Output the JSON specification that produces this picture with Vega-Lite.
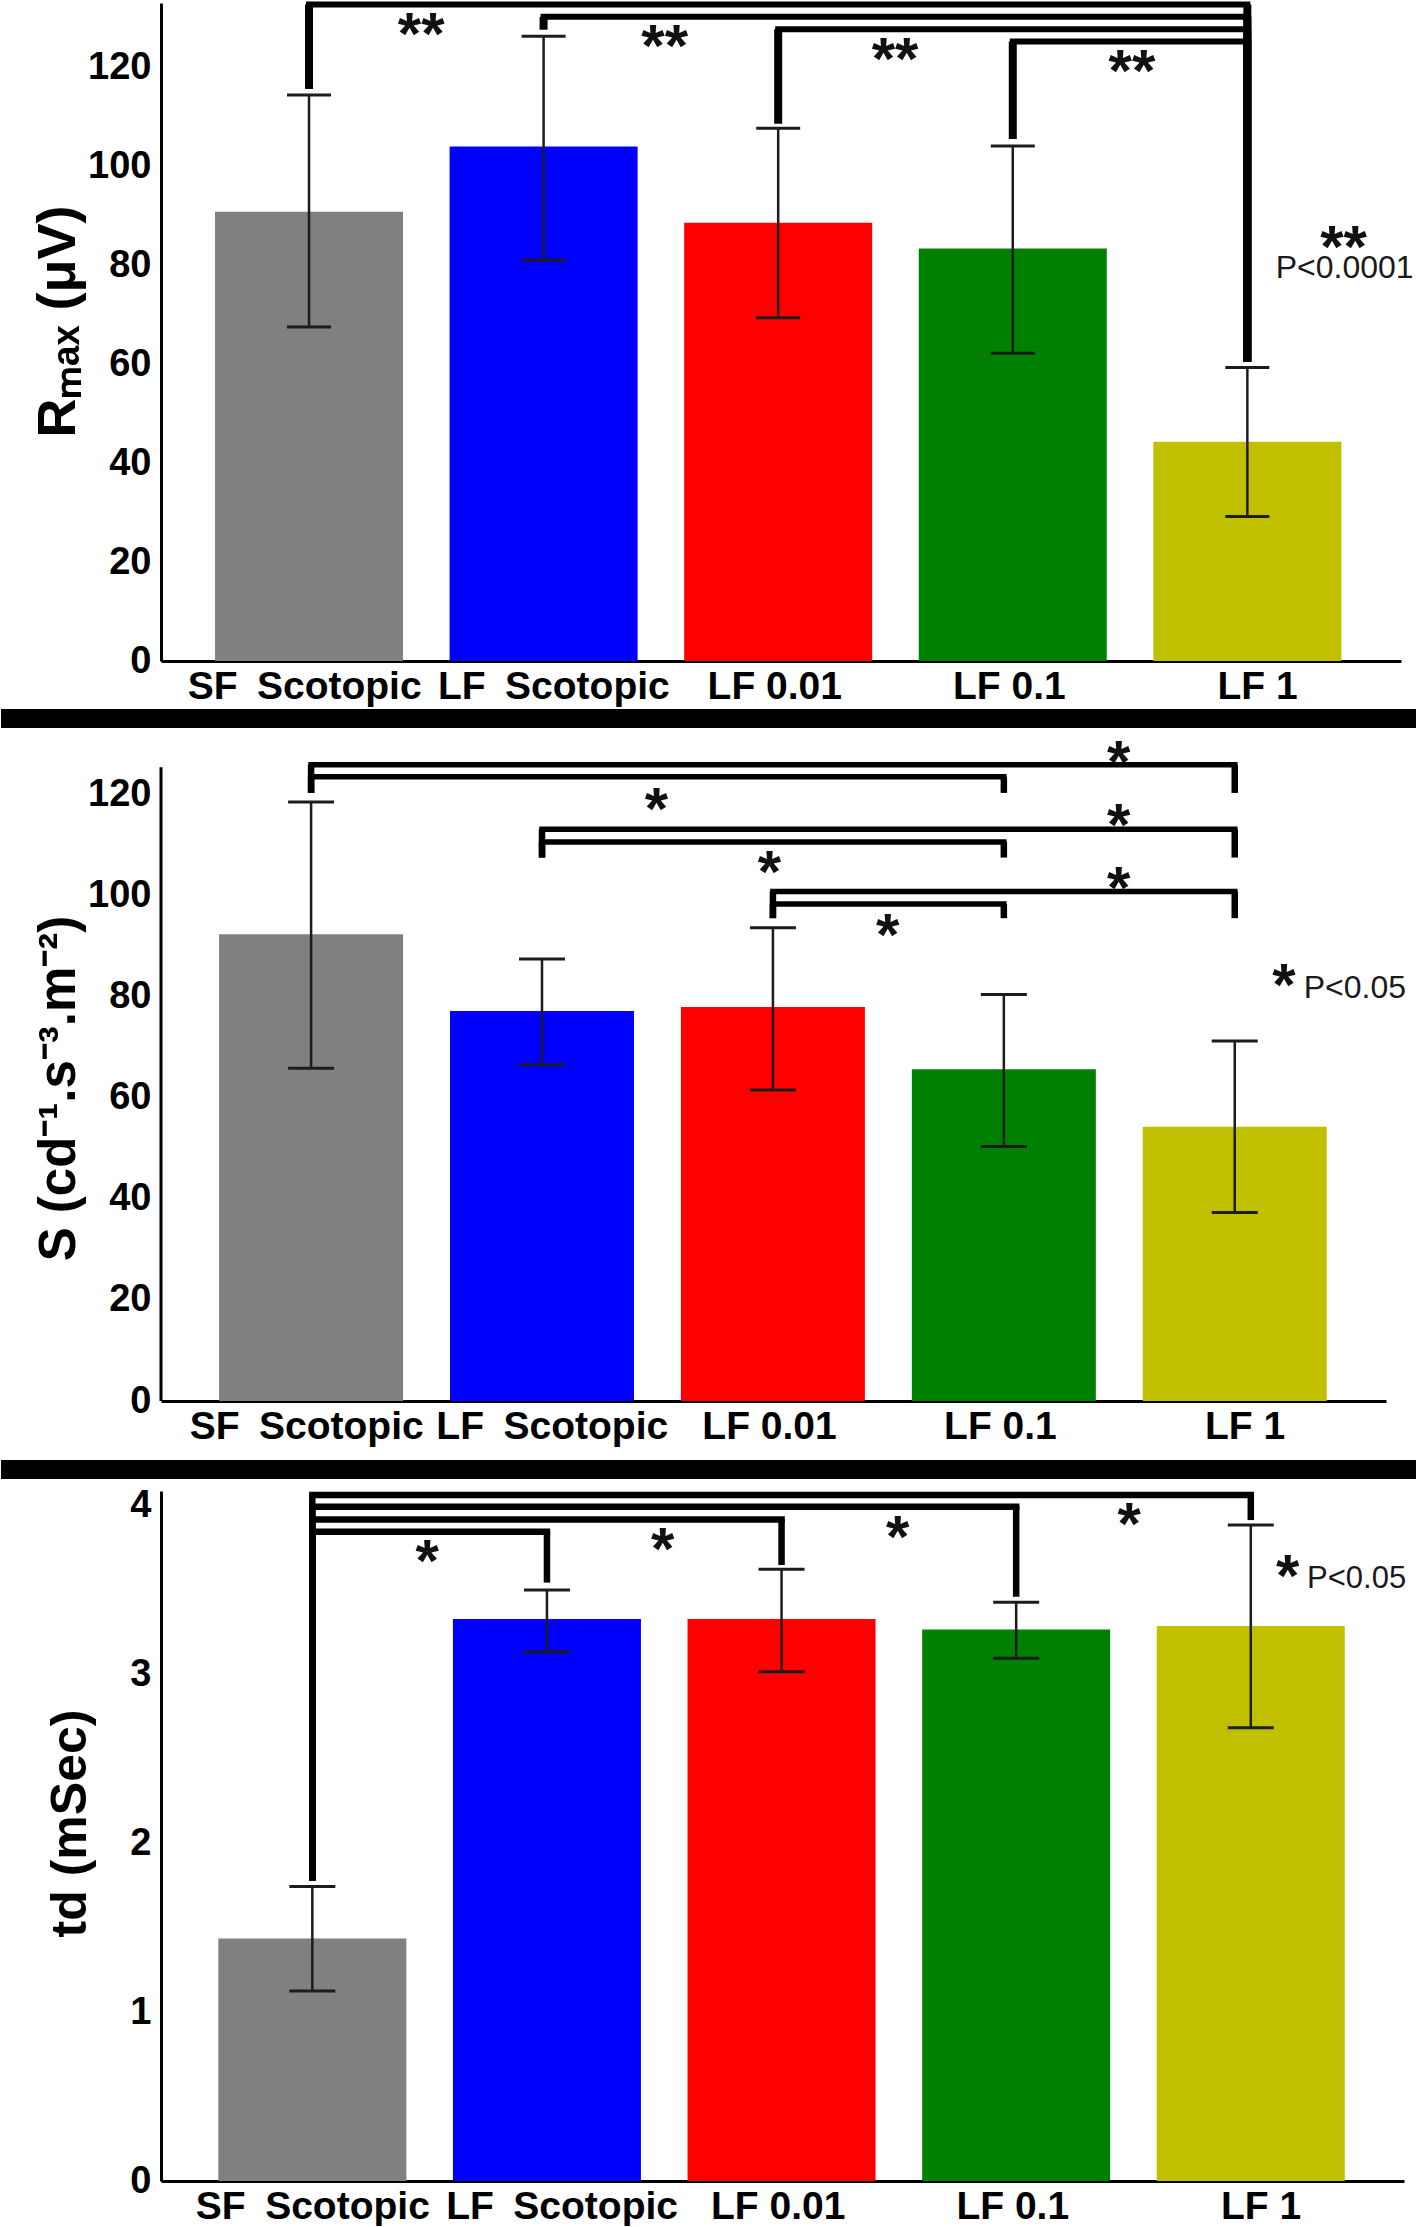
{
  "$schema": "https://vega.github.io/schema/vega-lite/v6.json",
  "padding": 0,
  "bounds": "flush",
  "spacing": 90,
  "config": {
    "view": {"stroke": null},
    "font": "Liberation Sans",
    "axis": {"grid": false, "ticks": false, "domainColor": "#000000", "domainWidth": 3, "labelColor": "#000000", "labelFont": "Liberation Sans", "labelFontWeight": "bold", "labelFontSize": 38, "titleColor": "#000000", "titleFont": "Liberation Sans", "labelFlush": false, "labelOverlap": false, "labelLimit": 0}
  },
  "datasets": {
    "rmax": [
      {"group": "SF Scotopic", "idx": 0, "mean": 90.8, "lo": 67.5, "hi": 114.4},
      {"group": "LF Scotopic", "idx": 1, "mean": 104.0, "lo": 81.0, "hi": 126.3},
      {"group": "LF 0.01", "idx": 2, "mean": 88.6, "lo": 69.4, "hi": 107.7},
      {"group": "LF 0.1", "idx": 3, "mean": 83.4, "lo": 62.2, "hi": 104.1},
      {"group": "LF 1", "idx": 4, "mean": 44.3, "lo": 29.2, "hi": 59.3}
    ],
    "sens": [
      {"group": "SF Scotopic", "idx": 0, "mean": 92.4, "lo": 65.9, "hi": 118.6},
      {"group": "LF Scotopic", "idx": 1, "mean": 77.2, "lo": 66.6, "hi": 87.5},
      {"group": "LF 0.01", "idx": 2, "mean": 78.0, "lo": 61.6, "hi": 93.7},
      {"group": "LF 0.1", "idx": 3, "mean": 65.7, "lo": 50.4, "hi": 80.5},
      {"group": "LF 1", "idx": 4, "mean": 54.3, "lo": 37.3, "hi": 71.3}
    ],
    "td": [
      {"group": "SF Scotopic", "idx": 0, "mean": 1.435, "lo": 1.125, "hi": 1.742},
      {"group": "LF Scotopic", "idx": 1, "mean": 3.325, "lo": 3.132, "hi": 3.497},
      {"group": "LF 0.01", "idx": 2, "mean": 3.325, "lo": 3.014, "hi": 3.62},
      {"group": "LF 0.1", "idx": 3, "mean": 3.264, "lo": 3.093, "hi": 3.424},
      {"group": "LF 1", "idx": 4, "mean": 3.284, "lo": 2.682, "hi": 3.882}
    ],
    "br1": [
      {"from": 0, "to": 4, "level": 132.7, "fromBottom": 115.6, "toBottom": 60.5},
      {"from": 1, "to": 4, "level": 130.2, "fromBottom": 127.6, "toBottom": 60.5},
      {"from": 2, "to": 4, "level": 127.7, "fromBottom": 108.6, "toBottom": 60.5},
      {"from": 3, "to": 4, "level": 125.2, "fromBottom": 105.5, "toBottom": 60.5}
    ],
    "br2": [
      {"from": 0, "to": 4, "level": 126.0, "fromBottom": 120.4, "toBottom": 120.4},
      {"from": 0, "to": 3, "level": 123.6, "fromBottom": 120.4, "toBottom": 120.4},
      {"from": 1, "to": 4, "level": 113.2, "fromBottom": 107.6, "toBottom": 107.6},
      {"from": 1, "to": 3, "level": 110.7, "fromBottom": 107.6, "toBottom": 107.6},
      {"from": 2, "to": 4, "level": 100.9, "fromBottom": 95.6, "toBottom": 95.6},
      {"from": 2, "to": 3, "level": 98.4, "fromBottom": 95.6, "toBottom": 95.6}
    ],
    "br3": [
      {"from": 0, "to": 4, "level": 4.059, "fromBottom": 1.777, "toBottom": 3.911},
      {"from": 0, "to": 3, "level": 3.99, "fromBottom": 1.777, "toBottom": 3.457},
      {"from": 0, "to": 2, "level": 3.915, "fromBottom": 1.777, "toBottom": 3.645},
      {"from": 0, "to": 1, "level": 3.842, "fromBottom": 1.777, "toBottom": 3.541}
    ],
    "st1": [
      {"x": 0.478, "y": 122.6, "label": "**"},
      {"x": 1.516, "y": 120.3, "label": "**"},
      {"x": 2.498, "y": 117.6, "label": "**"},
      {"x": 3.508, "y": 115.2, "label": "**"},
      {"x": 4.41, "y": 79.6, "label": "**"}
    ],
    "nt1": [{"x": 4.415, "y": 77.4, "label": "P<0.0001"}],
    "st2": [
      {"x": 3.497, "y": 122.6, "label": "*"},
      {"x": 1.495, "y": 113.3, "label": "*"},
      {"x": 3.497, "y": 110.1, "label": "*"},
      {"x": 1.985, "y": 100.7, "label": "*"},
      {"x": 3.497, "y": 97.7, "label": "*"},
      {"x": 2.497, "y": 88.4, "label": "*"},
      {"x": 4.213, "y": 78.5, "label": "*"}
    ],
    "nt2": [{"x": 4.52, "y": 79.7, "label": "P<0.05"}],
    "st3": [
      {"x": 0.489, "y": 3.552, "label": "*"},
      {"x": 1.493, "y": 3.621, "label": "*"},
      {"x": 2.495, "y": 3.69, "label": "*"},
      {"x": 3.482, "y": 3.769, "label": "*"},
      {"x": 4.157, "y": 3.463, "label": "*"}
    ],
    "nt3": [{"x": 4.451, "y": 3.507, "label": "P<0.05"}]
  },
  "vconcat": [
    {
      "width": 1240,
      "height": 658,
      "layer": [
        {
          "data": {"name": "rmax"},
          "mark": {"type": "bar", "orient": "vertical", "width": 188},
          "encoding": {
            "x": {"field": "idx", "type": "quantitative", "scale": {"domain": [-0.631, 4.655], "nice": false, "zero": false, "padding": 0},
                  "axis": {"values": [0, 1, 2, 3, 4], "title": null, "labelFontSize": 39, "labelPadding": 6,
                           "labelExpr": "datum.value == 0 ? 'SF\u2002Scotopic\u2005\u200d' : datum.value == 1 ? '\u200d\u2002LF\u2002Scotopic' : datum.value == 2 ? 'LF 0.01\u2009\u200d' : datum.value == 3 ? 'LF 0.1\u2009\u200d' : '\u200d\u2002LF 1'"}},
            "y": {"field": "mean", "type": "quantitative", "scale": {"domain": [0, 133], "nice": false, "padding": 0},
                  "axis": {"values": [0, 20, 40, 60, 80, 100, 120], "title": "Rₘₐₓ (μV)", "titleFontSize": 54, "titleFontWeight": "bold", "titlePadding": 2, "labelPadding": 10, "titleY": 318}},
            "color": {"field": "group", "type": "nominal", "legend": null,
                      "scale": {"domain": ["SF Scotopic", "LF Scotopic", "LF 0.01", "LF 0.1", "LF 1"], "range": ["#808080", "#0000ff", "#ff0000", "#008000", "#c0c000"]}}
          }
        },
        {
          "data": {"name": "rmax"},
          "mark": {"type": "rule", "strokeWidth": 2.5, "color": "#1c1c1c"},
          "encoding": {"x": {"field": "idx", "type": "quantitative"}, "y": {"field": "lo", "type": "quantitative"}, "y2": {"field": "hi"}}
        },
        {
          "data": {"name": "rmax"},
          "mark": {"type": "tick", "orient": "horizontal", "size": 44, "thickness": 3, "opacity": 1, "color": "#1c1c1c"},
          "encoding": {"x": {"field": "idx", "type": "quantitative"}, "y": {"field": "hi", "type": "quantitative"}}
        },
        {
          "data": {"name": "rmax"},
          "mark": {"type": "tick", "orient": "horizontal", "size": 44, "thickness": 3, "opacity": 1, "color": "#1c1c1c"},
          "encoding": {"x": {"field": "idx", "type": "quantitative"}, "y": {"field": "lo", "type": "quantitative"}}
        },
        {
          "data": {"name": "br1"},
          "mark": {"type": "rule", "strokeWidth": 6, "color": "#000000", "strokeCap": "square"},
          "encoding": {"x": {"field": "from", "type": "quantitative"}, "x2": {"field": "to"}, "y": {"field": "level", "type": "quantitative"}}
        },
        {
          "data": {"name": "br1"},
          "mark": {"type": "rule", "strokeWidth": 8, "color": "#000000", "strokeCap": "butt"},
          "encoding": {"x": {"field": "from", "type": "quantitative"}, "y": {"field": "fromBottom", "type": "quantitative"}, "y2": {"field": "level"}}
        },
        {
          "data": {"name": "br1"},
          "mark": {"type": "rule", "strokeWidth": 8, "color": "#000000", "strokeCap": "butt"},
          "encoding": {"x": {"field": "to", "type": "quantitative"}, "y": {"field": "toBottom", "type": "quantitative"}, "y2": {"field": "level"}}
        },
        {
          "data": {"name": "st1"},
          "mark": {"type": "text", "fontSize": 60, "fontWeight": "bold", "baseline": "alphabetic", "align": "center", "color": "#111111"},
          "encoding": {"x": {"field": "x", "type": "quantitative"}, "y": {"field": "y", "type": "quantitative"}, "text": {"field": "label"}}
        },
        {
          "data": {"name": "nt1"},
          "mark": {"type": "text", "fontSize": 32, "baseline": "alphabetic", "align": "center", "color": "#1a1a1a"},
          "encoding": {"x": {"field": "x", "type": "quantitative"}, "y": {"field": "y", "type": "quantitative"}, "text": {"field": "label"}}
        },
        {
          "data": {"values": [{}]},
          "mark": {"type": "rect", "color": "#000000"},
          "encoding": {"x": {"datum": -1.313}, "x2": {"datum": 4.723}, "y": {"datum": -9.7}, "y2": {"datum": -13.54}}
        }
      ]
    },
    {
      "width": 1225,
      "height": 650,
      "layer": [
        {
          "data": {"name": "sens"},
          "mark": {"type": "bar", "orient": "vertical", "width": 184},
          "encoding": {
            "x": {"field": "idx", "type": "quantitative", "scale": {"domain": [-0.65, 4.655], "nice": false, "zero": false, "padding": 0},
                  "axis": {"values": [0, 1, 2, 3, 4], "title": null, "labelFontSize": 39, "labelPadding": 6,
                           "labelExpr": "datum.value == 0 ? 'SF\u2002Scotopic\u2005\u200d' : datum.value == 1 ? '\u200d\u2002LF\u2002Scotopic' : datum.value == 2 ? 'LF 0.01\u2009\u200d' : datum.value == 3 ? 'LF 0.1\u2009\u200d' : '\u200d\u2002LF 1'"}},
            "y": {"field": "mean", "type": "quantitative", "scale": {"domain": [0, 128.7], "nice": false, "padding": 0},
                  "axis": {"values": [0, 20, 40, 60, 80, 100, 120], "domain": false, "title": "S (cd⁻¹.s⁻³.m⁻²)", "titleFontSize": 51, "titleFontWeight": "bold", "titlePadding": 2, "labelPadding": 10, "titleY": 337}},
            "color": {"field": "group", "type": "nominal", "legend": null,
                      "scale": {"domain": ["SF Scotopic", "LF Scotopic", "LF 0.01", "LF 0.1", "LF 1"], "range": ["#808080", "#0000ff", "#ff0000", "#008000", "#c0c000"]}}
          }
        },
        {
          "data": {"values": [{}]},
          "mark": {"type": "rule", "strokeWidth": 3, "color": "#000000"},
          "encoding": {"x": {"datum": -0.65}, "y": {"datum": 0}, "y2": {"datum": 125.5}}
        },
        {
          "data": {"name": "sens"},
          "mark": {"type": "rule", "strokeWidth": 2.5, "color": "#1c1c1c"},
          "encoding": {"x": {"field": "idx", "type": "quantitative"}, "y": {"field": "lo", "type": "quantitative"}, "y2": {"field": "hi"}}
        },
        {
          "data": {"name": "sens"},
          "mark": {"type": "tick", "orient": "horizontal", "size": 46, "thickness": 3, "opacity": 1, "color": "#1c1c1c"},
          "encoding": {"x": {"field": "idx", "type": "quantitative"}, "y": {"field": "hi", "type": "quantitative"}}
        },
        {
          "data": {"name": "sens"},
          "mark": {"type": "tick", "orient": "horizontal", "size": 46, "thickness": 3, "opacity": 1, "color": "#1c1c1c"},
          "encoding": {"x": {"field": "idx", "type": "quantitative"}, "y": {"field": "lo", "type": "quantitative"}}
        },
        {
          "data": {"name": "br2"},
          "mark": {"type": "rule", "strokeWidth": 5.5, "color": "#000000", "strokeCap": "square"},
          "encoding": {"x": {"field": "from", "type": "quantitative"}, "x2": {"field": "to"}, "y": {"field": "level", "type": "quantitative"}}
        },
        {
          "data": {"name": "br2"},
          "mark": {"type": "rule", "strokeWidth": 6.5, "color": "#000000", "strokeCap": "butt"},
          "encoding": {"x": {"field": "from", "type": "quantitative"}, "y": {"field": "fromBottom", "type": "quantitative"}, "y2": {"field": "level"}}
        },
        {
          "data": {"name": "br2"},
          "mark": {"type": "rule", "strokeWidth": 6.5, "color": "#000000", "strokeCap": "butt"},
          "encoding": {"x": {"field": "to", "type": "quantitative"}, "y": {"field": "toBottom", "type": "quantitative"}, "y2": {"field": "level"}}
        },
        {
          "data": {"name": "st2"},
          "mark": {"type": "text", "fontSize": 60, "fontWeight": "bold", "baseline": "alphabetic", "align": "center", "color": "#111111"},
          "encoding": {"x": {"field": "x", "type": "quantitative"}, "y": {"field": "y", "type": "quantitative"}, "text": {"field": "label"}}
        },
        {
          "data": {"name": "nt2"},
          "mark": {"type": "text", "fontSize": 32, "baseline": "alphabetic", "align": "center", "color": "#1a1a1a"},
          "encoding": {"x": {"field": "x", "type": "quantitative"}, "y": {"field": "y", "type": "quantitative"}, "text": {"field": "label"}}
        },
        {
          "data": {"values": [{}]},
          "mark": {"type": "rect", "color": "#000000"},
          "encoding": {"x": {"datum": -1.343}, "x2": {"datum": 4.79}, "y": {"datum": -11.68}, "y2": {"datum": -15.44}}
        }
      ]
    },
    {
      "width": 1243,
      "height": 690,
      "layer": [
        {
          "data": {"name": "td"},
          "mark": {"type": "bar", "orient": "vertical", "width": 188},
          "encoding": {
            "x": {"field": "idx", "type": "quantitative", "scale": {"domain": [-0.645, 4.653], "nice": false, "zero": false, "padding": 0},
                  "axis": {"values": [0, 1, 2, 3, 4], "title": null, "labelFontSize": 39, "labelPadding": 6,
                           "labelExpr": "datum.value == 0 ? 'SF\u2002Scotopic' : datum.value == 1 ? '\u200d\u2002\u2005LF\u2002Scotopic' : datum.value == 2 ? 'LF 0.01\u2009\u200d' : datum.value == 3 ? 'LF 0.1\u2009\u200d' : '\u200d\u2002LF 1'"}},
            "y": {"field": "mean", "type": "quantitative", "scale": {"domain": [0, 4.083], "nice": false, "padding": 0},
                  "axis": {"values": [0, 1, 2, 3, 4], "format": "d", "title": "td (mSec)", "titleFontSize": 50, "titleFontWeight": "bold", "titlePadding": 34, "labelPadding": 10, "titleY": 332}},
            "color": {"field": "group", "type": "nominal", "legend": null,
                      "scale": {"domain": ["SF Scotopic", "LF Scotopic", "LF 0.01", "LF 0.1", "LF 1"], "range": ["#808080", "#0000ff", "#ff0000", "#008000", "#c0c000"]}}
          }
        },
        {
          "data": {"name": "td"},
          "mark": {"type": "rule", "strokeWidth": 2.5, "color": "#1c1c1c"},
          "encoding": {"x": {"field": "idx", "type": "quantitative"}, "y": {"field": "lo", "type": "quantitative"}, "y2": {"field": "hi"}}
        },
        {
          "data": {"name": "td"},
          "mark": {"type": "tick", "orient": "horizontal", "size": 46, "thickness": 3, "opacity": 1, "color": "#1c1c1c"},
          "encoding": {"x": {"field": "idx", "type": "quantitative"}, "y": {"field": "hi", "type": "quantitative"}}
        },
        {
          "data": {"name": "td"},
          "mark": {"type": "tick", "orient": "horizontal", "size": 46, "thickness": 3, "opacity": 1, "color": "#1c1c1c"},
          "encoding": {"x": {"field": "idx", "type": "quantitative"}, "y": {"field": "lo", "type": "quantitative"}}
        },
        {
          "data": {"name": "br3"},
          "mark": {"type": "rule", "strokeWidth": 6.5, "color": "#000000", "strokeCap": "square"},
          "encoding": {"x": {"field": "from", "type": "quantitative"}, "x2": {"field": "to"}, "y": {"field": "level", "type": "quantitative"}}
        },
        {
          "data": {"name": "br3"},
          "mark": {"type": "rule", "strokeWidth": 6.5, "color": "#000000", "strokeCap": "butt"},
          "encoding": {"x": {"field": "from", "type": "quantitative"}, "y": {"field": "fromBottom", "type": "quantitative"}, "y2": {"field": "level"}}
        },
        {
          "data": {"name": "br3"},
          "mark": {"type": "rule", "strokeWidth": 6.5, "color": "#000000", "strokeCap": "butt"},
          "encoding": {"x": {"field": "to", "type": "quantitative"}, "y": {"field": "toBottom", "type": "quantitative"}, "y2": {"field": "level"}}
        },
        {
          "data": {"name": "st3"},
          "mark": {"type": "text", "fontSize": 60, "fontWeight": "bold", "baseline": "alphabetic", "align": "center", "color": "#111111"},
          "encoding": {"x": {"field": "x", "type": "quantitative"}, "y": {"field": "y", "type": "quantitative"}, "text": {"field": "label"}}
        },
        {
          "data": {"name": "nt3"},
          "mark": {"type": "text", "fontSize": 31, "baseline": "alphabetic", "align": "center", "color": "#1a1a1a"},
          "encoding": {"x": {"field": "x", "type": "quantitative"}, "y": {"field": "y", "type": "quantitative"}, "text": {"field": "label"}}
        }
      ]
    }
  ]
}
